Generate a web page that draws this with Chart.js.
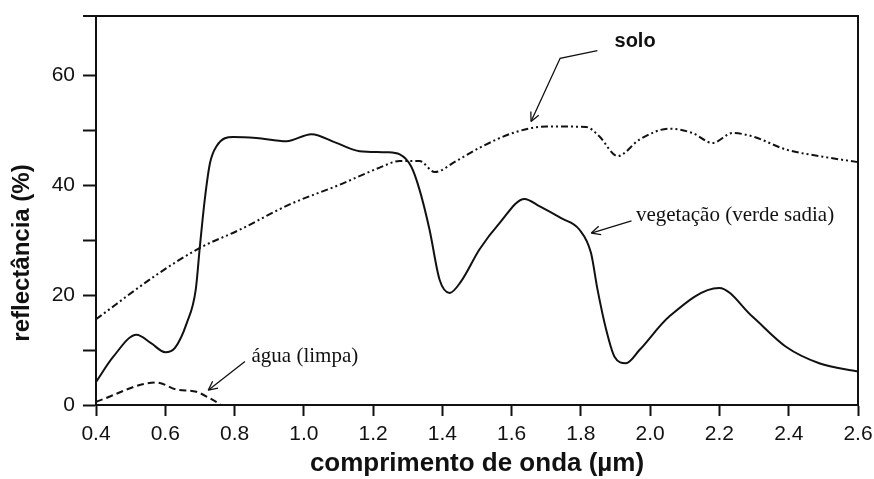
<!DOCTYPE html>
<html>
<head>
<meta charset="utf-8">
<script src="https://cdn.jsdelivr.net/npm/chart.js@4/dist/chart.umd.min.js"></script>
<style>
  body { margin: 0; background: #fff; }
  #wrap { width: 874px; height: 479px; }
</style>
</head>
<body>
<div id="wrap"><canvas id="spectra" width="874" height="479"></canvas></div>
<script>
// Reflectance curves (wavelength in µm, reflectance in %)
const vegX = [0.40, 0.45, 0.517, 0.56, 0.60, 0.628, 0.662, 0.688, 0.70, 0.714, 0.729, 0.748, 0.796, 0.863, 0.95, 1.022, 1.094, 1.161, 1.24, 1.277, 1.31, 1.334, 1.363, 1.392, 1.421, 1.454, 1.507, 1.565, 1.637, 1.68, 1.743, 1.796, 1.829, 1.848, 1.873, 1.897, 1.93, 1.969, 2.055, 2.199, 2.295, 2.392, 2.488, 2.60];
const vegY = [4.2, 8.8, 12.8, 11.2, 9.6, 10.4, 14.9, 21.0, 28.9, 37.4, 44.0, 47.1, 48.8, 48.6, 48.0, 49.3, 47.7, 46.2, 46.0, 45.6, 43.4, 39.2, 31.9, 22.8, 20.4, 22.5, 28.3, 33.1, 37.5, 36.2, 34.0, 31.9, 27.7, 21.0, 13.7, 8.8, 7.6, 10.0, 16.1, 21.3, 16.1, 10.6, 7.6, 6.1];

const soloX = [0.40, 0.575, 0.70, 0.815, 0.959, 1.104, 1.219, 1.277, 1.334, 1.378, 1.44, 1.507, 1.603, 1.70, 1.815, 1.853, 1.906, 1.969, 2.055, 2.122, 2.18, 2.238, 2.295, 2.392, 2.488, 2.60];
const soloY = [15.6, 23.7, 28.6, 31.9, 36.5, 40.1, 43.2, 44.4, 44.4, 42.4, 44.4, 46.8, 49.5, 50.7, 50.6, 48.9, 45.3, 48.3, 50.3, 49.5, 47.7, 49.5, 48.9, 46.5, 45.3, 44.2];

const aguaX = [0.40, 0.575, 0.633, 0.69, 0.729, 0.762];
const aguaY = [0.6, 4.1, 2.8, 2.4, 1.2, 0.0];

const xTicks = [0.4, 0.6, 0.8, 1.0, 1.2, 1.4, 1.6, 1.8, 2.0, 2.2, 2.4, 2.6];
const yTicks = [0, 10, 20, 30, 40, 50, 60];
const yLabels = [0, 20, 40, 60];

// labels + arrows, given in data units
const notes = [
  { text: 'solo', font: 'bold 20px "Liberation Sans", Arial, sans-serif', x: 1.897, y: 65.1,
    arrow: [[1.8475, 64.5], [1.74, 63.1], [1.656, 51.6]] },
  { text: 'vegetação (verde sadia)', font: '21px "Liberation Serif", "Times New Roman", serif', x: 1.959, y: 33.4,
    arrow: [[1.946, 33.5], [1.830, 31.3]] },
  { text: 'água (limpa)', font: '21px "Liberation Serif", "Times New Roman", serif', x: 0.849, y: 7.9,
    arrow: [[0.83, 7.9], [0.724, 2.7]] }
];

const ink = '#111';

function pairs(xs, ys) {
  return xs.map((x, i) => ({ x: x, y: ys[i] }));
}

Chart.defaults.font.family = '"Liberation Sans", Arial, sans-serif';
Chart.defaults.color = ink;

// frame, y title, annotations
const extras = {
  id: 'extras',
  afterDraw(chart) {
    const { ctx, chartArea: a, scales } = chart;
    ctx.save();
    ctx.strokeStyle = ink;
    ctx.lineWidth = 2;
    ctx.beginPath();
    ctx.moveTo(a.left - 13, a.top);
    ctx.lineTo(a.right, a.top);
    ctx.lineTo(a.right, a.bottom);
    ctx.stroke();

    // y title sits lower than centre in the original
    ctx.fillStyle = ink;
    ctx.font = 'bold 24px "Liberation Sans", Arial, sans-serif';
    ctx.translate(22, a.bottom - 152);
    ctx.rotate(-Math.PI / 2);
    ctx.textAlign = 'center';
    ctx.textBaseline = 'middle';
    ctx.fillText('reflectância (%)', 0, 0);
    ctx.restore();

    ctx.save();
    ctx.strokeStyle = ink;
    ctx.fillStyle = ink;
    ctx.lineWidth = 1.3;
    notes.forEach(n => {
      ctx.font = n.font;
      ctx.textAlign = 'left';
      ctx.textBaseline = 'alphabetic';
      ctx.fillText(n.text, scales.x.getPixelForValue(n.x), scales.y.getPixelForValue(n.y));
      const pts = n.arrow.map(p => [scales.x.getPixelForValue(p[0]), scales.y.getPixelForValue(p[1])]);
      ctx.beginPath();
      ctx.moveTo(pts[0][0], pts[0][1]);
      pts.slice(1).forEach(p => ctx.lineTo(p[0], p[1]));
      ctx.stroke();
      const tip = pts[pts.length - 1], prev = pts[pts.length - 2];
      const ang = Math.atan2(prev[1] - tip[1], prev[0] - tip[0]);
      ctx.beginPath();
      [0.45, -0.45].forEach(d => {
        ctx.moveTo(tip[0], tip[1]);
        ctx.lineTo(tip[0] + 10 * Math.cos(ang + d), tip[1] + 10 * Math.sin(ang + d));
      });
      ctx.stroke();
    });
    ctx.restore();
  }
};

new Chart(document.getElementById('spectra'), {
  type: 'scatter',
  data: {
    datasets: [
      { label: 'vegetação', data: pairs(vegX, vegY), borderColor: ink, borderWidth: 2 },
      { label: 'solo', data: pairs(soloX, soloY), borderColor: ink, borderWidth: 2, borderDash: [7, 3, 2, 3, 2, 3] },
      { label: 'água', data: pairs(aguaX, aguaY), borderColor: ink, borderWidth: 2, borderDash: [7, 4] }
    ]
  },
  options: {
    responsive: false,
    animation: false,
    showLine: true,
    elements: {
      point: { radius: 0 },
      line: { cubicInterpolationMode: 'monotone', fill: false }
    },
    layout: { padding: { top: 16, right: 0, left: 0, bottom: 0 } },
    plugins: { legend: { display: false }, tooltip: { enabled: false } },
    scales: {
      x: {
        type: 'linear',
        min: 0.4,
        max: 2.6,
        afterBuildTicks: s => { s.ticks = xTicks.map(v => ({ value: v })); },
        afterFit: s => { s.height = 74; s.paddingRight = 16; },
        ticks: {
          callback: v => v.toFixed(1),
          font: { size: 21 },
          padding: 6,
          maxRotation: 0,
          autoSkip: false
        },
        grid: { drawOnChartArea: false, tickLength: 11, tickWidth: 2, tickColor: ink },
        border: { color: ink, width: 2 },
        title: {
          display: true,
          text: 'comprimento de onda (µm)',
          font: { size: 26, weight: 'bold' },
          padding: { top: 0, bottom: 0 }
        }
      },
      y: {
        min: 0,
        max: 70.8,
        afterBuildTicks: s => { s.ticks = yTicks.map(v => ({ value: v })); },
        afterFit: s => { s.width = 96; s.paddingTop = 0; },
        ticks: {
          callback: v => yLabels.includes(v) ? String(v) : '',
          font: { size: 21 },
          padding: 8
        },
        grid: { drawOnChartArea: false, tickLength: 13, tickWidth: 2, tickColor: ink },
        border: { color: ink, width: 2 }
      }
    }
  },
  plugins: [extras]
});
</script>
</body>
</html>
